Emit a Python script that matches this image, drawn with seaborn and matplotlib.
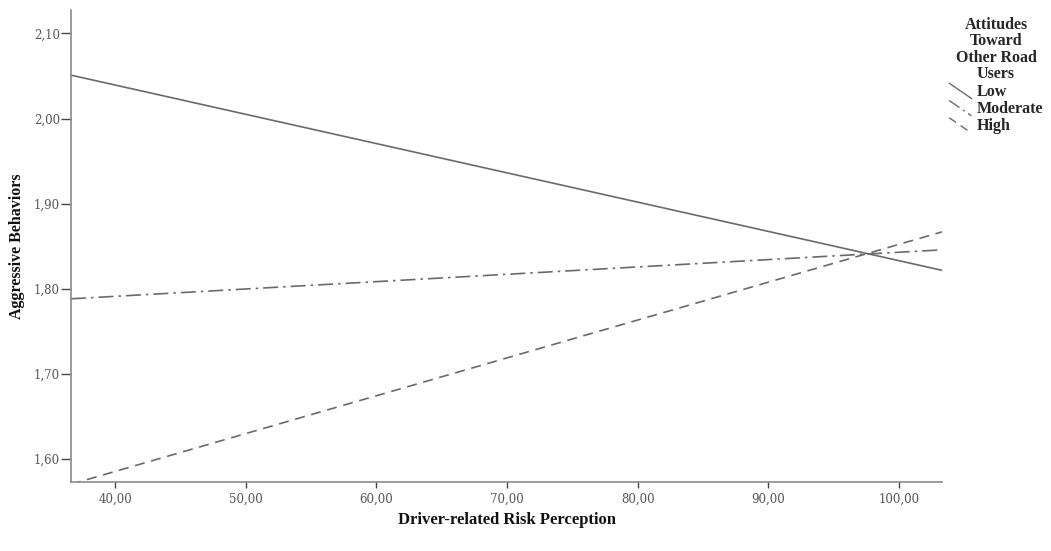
import numpy as np
import pandas as pd
import matplotlib
matplotlib.use("Agg")
import matplotlib.pyplot as plt
from matplotlib.lines import Line2D
from matplotlib.legend_handler import HandlerLine2D
import seaborn as sns

# ---- data ----
x_ends = [36.63, 103.3]
low_vals = [2.051, 1.8215]
moderate_vals = [1.788, 1.8456]
high_vals = [1.570, 1.8667]
groups = ["Low", "Moderate", "High"]
x_ticks = [40, 50, 60, 70, 80, 90, 100]
y_ticks = [1.60, 1.70, 1.80, 1.90, 2.00, 2.10]

df = pd.DataFrame({
    "x": x_ends * 3,
    "y": low_vals + moderate_vals + high_vals,
    "group": [g for g in groups for _ in x_ends],
})

sns.set_theme(style="white")
plt.rcParams["font.family"] = ["DejaVu Serif"]

fig = plt.figure(figsize=(10.51, 5.51), dpi=100)
ax = fig.add_axes([71 / 1051, 1 - 482 / 551, (942 - 71) / 1051, (482 - 10) / 551])

dashes = {"Low": "", "Moderate": (9, 3, 1.5, 3), "High": (6, 4)}
sns.lineplot(data=df, x="x", y="y", hue="group", style="group",
             palette={g: "#6a6a6a" for g in groups}, dashes=dashes,
             linewidth=1.2, ax=ax, legend=False)

ax.set_xlim(36.63, 103.3)
ax.set_ylim(1.5726, 2.1276)
ax.set_xticks(x_ticks)
ax.set_yticks(y_ticks)
ax.set_xticklabels([f"{v:.2f}".replace(".", ",") for v in x_ticks])
ax.set_yticklabels([f"{v:.2f}".replace(".", ",") for v in y_ticks])
ax.tick_params(axis="x", direction="out", length=4, width=1, color="#444444",
               labelsize=8.5, labelcolor="#555555", pad=4, bottom=True)
ax.tick_params(axis="y", direction="out", length=7, width=1, color="#444444",
               labelsize=8.5, labelcolor="#555555", pad=1, left=True)
for s in ["top", "right"]:
    ax.spines[s].set_visible(False)
for s in ["left", "bottom"]:
    ax.spines[s].set_color("#8a8a8a")
    ax.spines[s].set_linewidth(1.2)

ax.set_xlabel("Driver-related Risk Perception", family="Liberation Serif",
              fontweight="bold", fontsize=12, color="#111111", labelpad=4)
ax.set_ylabel("Aggressive Behaviors", family="Liberation Serif",
              fontweight="bold", fontsize=11.5, color="#111111", labelpad=6)


class SlantHandler(HandlerLine2D):
    def create_artists(self, legend, orig_handle, xdescent, ydescent,
                       width, height, fontsize, trans):
        line = Line2D([-xdescent, width - xdescent],
                      [height - ydescent + 1, -ydescent - 2])
        self.update_prop(line, orig_handle, legend)
        line.set_transform(trans)
        return [line]


handles = [Line2D([], [], color="#6a6a6a", linewidth=1.0,
                  linestyle=(0, dashes[g]) if dashes[g] else "-") for g in groups]
leg = fig.legend(handles, groups, loc="upper left",
                 bbox_to_anchor=(938 / 1051, 0.99), frameon=False,
                 title="Attitudes\nToward\nOther Road\nUsers",
                 handler_map={Line2D: SlantHandler()},
                 handlelength=1.4, handletextpad=0.3, labelspacing=0.08,
                 borderaxespad=0.3,
                 prop={"family": "Liberation Serif", "weight": "bold", "size": 11.5},
                 title_fontproperties={"family": "Liberation Serif",
                                       "weight": "bold", "size": 11.5})
leg.get_title().set_multialignment("center")
leg.get_title().set_linespacing(1.05)

fig.savefig("out.png", dpi=100)
